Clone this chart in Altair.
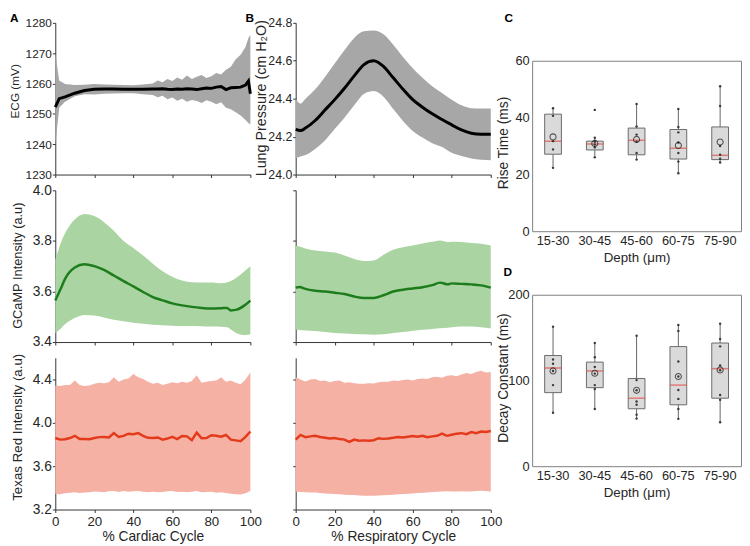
import altair as alt
import pandas as pd

# ---------------- A (top): ECG over the cardiac cycle ----------------
ECG_X = [0, 2, 5, 10, 15, 20, 25, 30, 35, 40, 45, 50, 52.5, 55, 57.5, 60, 62.5, 65, 67.5, 70,
         72.5, 75, 77.5, 80, 82.5, 85, 87.5, 90, 92.5, 95, 97.5, 99, 100]
ECG_MEAN = [1252.2, 1255.0, 1255.6, 1256.8, 1257.7, 1258.1, 1258.2, 1258.2, 1258.1, 1258.1, 1258.1, 1258.2,
            1258.2, 1258.3, 1258.1, 1258.0, 1258.2, 1258.1, 1258.3, 1258.2, 1258.0, 1258.3, 1258.5, 1258.4,
            1258.8, 1259.0, 1258.0, 1258.6, 1258.7, 1258.8, 1259.5, 1260.8, 1256.6]
ECG_HI = [1270, 1261, 1259.8, 1259.5, 1259.6, 1259.8, 1259.7, 1259.6, 1259.5, 1259.4, 1259.7, 1260.0,
          1261.0, 1260.4, 1261.5, 1260.8, 1262.0, 1261.2, 1262.6, 1261.5, 1262.2, 1262.8, 1261.8, 1262.4,
          1263.5, 1263.0, 1264.5, 1265.5, 1268, 1269.5, 1272, 1275, 1276]
ECG_LO = [1239.5, 1252, 1254, 1255.8, 1256.5, 1256.4, 1256.6, 1256.7, 1256.8, 1256.8, 1256.5, 1256.2,
          1255.5, 1256.0, 1254.8, 1255.4, 1254.3, 1255.0, 1254.0, 1254.6, 1254.2, 1253.6, 1254.5, 1254.0,
          1253.2, 1253.8, 1252.0, 1251.5, 1250.5, 1249.5, 1248, 1247, 1246.5]

# ---------------- B (top): lung pressure over the respiratory cycle ----------------
LUNG_X = [0, 2.5, 5, 10, 15, 20, 25, 30, 35, 40, 45, 50, 55, 60, 65, 70, 75, 80, 85, 90, 95, 100]
LUNG_MEAN = [24.238, 24.232, 24.245, 24.285, 24.34, 24.395, 24.455, 24.52, 24.58, 24.60, 24.57,
             24.51, 24.45, 24.395, 24.355, 24.32, 24.29, 24.262, 24.235, 24.218, 24.213, 24.213]
LUNG_HI = [24.40, 24.374, 24.40, 24.45, 24.515, 24.585, 24.655, 24.72, 24.755, 24.76, 24.74,
           24.685, 24.62, 24.56, 24.51, 24.465, 24.43, 24.395, 24.365, 24.35, 24.348, 24.348]
LUNG_LO = [24.087, 24.095, 24.103, 24.135, 24.18, 24.24, 24.30, 24.365, 24.425, 24.44, 24.41,
           24.345, 24.283, 24.23, 24.195, 24.165, 24.145, 24.115, 24.098, 24.085, 24.078, 24.075]

# ---------------- GCaMP, cardiac / respiratory ----------------
GCC_X = [0, 3, 5, 10, 15, 20, 25, 30, 35, 40, 45, 50, 55, 60, 65, 70, 75, 80, 85, 88, 90, 93, 97, 100]
GCC_MEAN = [3.564, 3.615, 3.65, 3.695, 3.708, 3.70, 3.685, 3.663, 3.641, 3.62, 3.598, 3.578,
            3.565, 3.553, 3.545, 3.539, 3.535, 3.533, 3.534, 3.535, 3.525, 3.528, 3.545, 3.564]
GCC_HI = [3.725, 3.796, 3.83, 3.885, 3.906, 3.898, 3.874, 3.84, 3.80, 3.772, 3.742, 3.71,
          3.68, 3.658, 3.643, 3.636, 3.635, 3.635, 3.632, 3.635, 3.641, 3.655, 3.68, 3.70]
GCC_LO = [3.435, 3.455, 3.47, 3.495, 3.507, 3.505, 3.497, 3.488, 3.482, 3.476, 3.472, 3.468,
          3.466, 3.464, 3.463, 3.463, 3.462, 3.461, 3.46, 3.458, 3.45, 3.435, 3.428, 3.43]

GCR_X = [0, 2, 5, 10, 15, 20, 25, 30, 35, 40, 45, 50, 55, 60, 65, 70, 74, 78, 80, 85, 90, 95, 100]
GCR_MEAN = [3.615, 3.618, 3.61, 3.603, 3.60, 3.595, 3.59, 3.58, 3.574, 3.574, 3.585, 3.60,
            3.607, 3.612, 3.617, 3.625, 3.635, 3.628, 3.632, 3.63, 3.628, 3.624, 3.615]
GCR_HI = [3.781, 3.778, 3.77, 3.762, 3.758, 3.754, 3.742, 3.728, 3.72, 3.722, 3.745, 3.765,
          3.775, 3.782, 3.79, 3.797, 3.802, 3.796, 3.797, 3.796, 3.792, 3.789, 3.782]
GCR_LO = [3.45, 3.448, 3.446, 3.444, 3.44, 3.436, 3.434, 3.432, 3.431, 3.429, 3.431, 3.436,
          3.44, 3.445, 3.449, 3.452, 3.455, 3.457, 3.458, 3.461, 3.461, 3.458, 3.454]

# ---------------- Texas Red, cardiac / respiratory ----------------
TR_X = [0, 2.5, 5, 7.5, 10, 12.5, 15, 17.5, 20, 22.5, 25, 27.5, 30, 32.5, 35, 37.5, 40, 42.5, 45, 47.5,
        50, 52.5, 55, 57.5, 60, 62.5, 65, 67.5, 70, 72.5, 75, 77.5, 80, 82.5, 85, 87.5, 90, 92.5, 95, 97.5, 100]
TRC_MEAN = [3.86, 3.845, 3.848, 3.86, 3.88, 3.85, 3.85, 3.848, 3.86, 3.868, 3.87, 3.865, 3.905, 3.87,
            3.88, 3.9, 3.895, 3.905, 3.88, 3.862, 3.86, 3.865, 3.845, 3.855, 3.87, 3.85, 3.878, 3.875,
            3.84, 3.91, 3.858, 3.86, 3.885, 3.88, 3.872, 3.888, 3.845, 3.838, 3.83, 3.87, 3.92]
TRC_HI = [4.345, 4.34, 4.35, 4.35, 4.39, 4.35, 4.34, 4.345, 4.36, 4.37, 4.365, 4.375, 4.42, 4.38,
          4.4, 4.41, 4.45, 4.42, 4.405, 4.38, 4.36, 4.37, 4.35, 4.36, 4.375, 4.365, 4.38, 4.37,
          4.385, 4.44, 4.37, 4.38, 4.385, 4.39, 4.42, 4.38, 4.39, 4.37, 4.355, 4.4, 4.465]
TRC_LO = [3.343, 3.34, 3.35, 3.355, 3.36, 3.352, 3.357, 3.36, 3.367, 3.365, 3.36, 3.368, 3.37, 3.362,
          3.37, 3.365, 3.368, 3.372, 3.365, 3.36, 3.365, 3.36, 3.362, 3.368, 3.37, 3.362, 3.365, 3.36,
          3.365, 3.372, 3.36, 3.362, 3.365, 3.355, 3.36, 3.352, 3.345, 3.34, 3.338, 3.35, 3.37]
TRR_MEAN = [3.844, 3.889, 3.868, 3.875, 3.88, 3.87, 3.862, 3.855, 3.86, 3.85, 3.845, 3.825, 3.845,
            3.835, 3.838, 3.835, 3.84, 3.858, 3.852, 3.856, 3.862, 3.87, 3.865, 3.872, 3.878, 3.872,
            3.88, 3.868, 3.875, 3.88, 3.9, 3.88, 3.89, 3.9, 3.905, 3.895, 3.915, 3.905, 3.92, 3.915, 3.925]
TRR_HI = [4.42, 4.40, 4.382, 4.40, 4.405, 4.385, 4.39, 4.375, 4.385, 4.39, 4.37, 4.375, 4.365, 4.36,
          4.36, 4.365, 4.362, 4.375, 4.38, 4.378, 4.39, 4.385, 4.395, 4.4, 4.39, 4.405, 4.41, 4.405,
          4.42, 4.425, 4.415, 4.435, 4.44, 4.43, 4.445, 4.46, 4.45, 4.47, 4.48, 4.465, 4.47]
TRR_LO = [3.367, 3.362, 3.36, 3.358, 3.356, 3.352, 3.348, 3.345, 3.343, 3.34, 3.337, 3.335, 3.333,
          3.33, 3.328, 3.328, 3.328, 3.33, 3.332, 3.334, 3.337, 3.34, 3.343, 3.346, 3.349, 3.352,
          3.355, 3.358, 3.362, 3.364, 3.366, 3.368, 3.367, 3.366, 3.368, 3.367, 3.366, 3.37, 3.373,
          3.37, 3.367]

# ---------------- C / D: box plots by depth ----------------
CATS = ["15-30", "30-45", "45-60", "60-75", "75-90"]
RISE_Q1 = [27.1, 28.6, 26.9, 25.4, 25.2]
RISE_Q3 = [41.2, 31.7, 36.3, 35.8, 36.7]
RISE_MED = [31.7, 30.7, 32.0, 29.2, 26.7]
RISE_MEAN = [33.2, 30.9, 32.3, 30.2, 31.4]
RISE_WLO = [22.3, 26.0, 25.2, 20.4, 24.2]
RISE_WHI = [43.3, 32.9, 44.8, 43.0, 51.0]
RISE_PTS = [[43.3, 40.6, 31.7, 28.8, 22.3],
            [42.7, 32.9, 31.5, 30.5, 29.5, 26.0],
            [44.8, 36.9, 34.0, 31.5, 27.5, 25.2],
            [43.0, 36.7, 34.8, 31.2, 27.5, 24.5, 20.4],
            [51.0, 44.1, 30.0, 26.9, 25.5, 24.2]]

DEC_Q1 = [85.8, 91.6, 67.0, 71.6, 79.3]
DEC_Q3 = [129.1, 121.4, 102.3, 139.5, 143.7]
DEC_MED = [114.5, 111.1, 79.3, 94.6, 113.8]
DEC_MEAN = [111.1, 108.4, 88.5, 104.6, 112.3]
DEC_WLO = [62.4, 66.7, 55.5, 55.2, 51.3]
DEC_WHI = [162.8, 143.7, 152.1, 164.7, 166.3]
DEC_PTS = [[162.8, 124.5, 119.5, 111.1, 94.6, 62.4],
           [143.7, 127.2, 115.7, 108.0, 94.6, 90.0, 66.7],
           [152.1, 100.4, 88.5, 75.5, 71.6, 60.1, 55.5],
           [164.7, 157.8, 122.2, 104.6, 88.9, 78.5, 66.7, 55.2],
           [166.3, 148.3, 139.8, 117.6, 111.9, 83.1, 77.4, 51.3]]

FONT = "Liberation Sans"
INK = "#262626"
AXC = "#333333"
XTICKS = [0, 20, 40, 60, 80, 100]

GRAY_BAND, GRAY_LINE = "#a7a7a7", "#000000"
GREEN_BAND, GREEN_LINE = "#aad4a1", "#1d7d1d"
RED_BAND, RED_LINE = "#f5b1a4", "#e43a1c"


def x_axis(labels, title):
    return alt.Axis(values=XTICKS, labels=labels, title=title, tickSize=3, labelFlush=False,
                    labelFontSize=13.5, labelPadding=2, titleFontSize=14, titlePadding=2, format="d")


def y_axis(values, fmt, labels, title, lsize, tsize, tx, ty=77):
    if title:
        return alt.Axis(values=values, format=fmt, labels=labels, tickSize=3, labelPadding=1,
                        labelFontSize=lsize, labelFlush=False, title=title, titleFontSize=tsize,
                        titleX=tx, titleY=ty)
    return alt.Axis(values=values, format=fmt, labels=labels, tickSize=3, labelPadding=1,
                    labelFontSize=lsize, labelFlush=False, title=None)


def letter(t, dx, dy):
    return alt.Title(t, anchor="start", frame="group", dx=dx, dy=dy, offset=0,
                     fontSize=12, fontWeight="bold", font=FONT, color="#000000")


def trace(x, m, lo, hi, band, line, lw, ydom, yax, xax, title=None, interp="linear", w=198, h=154):
    df = pd.DataFrame({"x": x, "m": m, "lo": lo, "hi": hi})
    xs = alt.Scale(domain=[0, 100], nice=False)
    ys = alt.Scale(domain=ydom, nice=False, zero=False)
    X = alt.X("x:Q", scale=xs, axis=xax)
    area = alt.Chart(df).mark_area(color=band, opacity=1, interpolate=interp).encode(
        x=X, y=alt.Y("lo:Q", scale=ys, axis=yax), y2="hi:Q")
    ln = alt.Chart(df).mark_line(color=line, strokeWidth=lw, interpolate=interp).encode(
        x=X, y=alt.Y("m:Q", scale=ys, axis=yax))
    ch = alt.layer(area, ln).properties(width=w, height=h)
    if title is not None:
        ch = ch.properties(title=title)
    return ch


def box(q1, q3, med, mean, wlo, whi, pts, ydom, yvals, ytitle, h, ty, title=None):
    st = pd.DataFrame({"d": CATS, "q1": q1, "q3": q3, "med": med, "mean": mean, "wlo": wlo, "whi": whi})
    pdf = pd.DataFrame([(c, v) for c, vs in zip(CATS, pts) for v in vs], columns=["d", "v"])
    xax = alt.Axis(title="Depth (μm)", labelAngle=0, ticks=False, domain=False, labelFontSize=13,
                   labelPadding=4, titleFontSize=13.5, titlePadding=3)
    X = alt.X("d:N", sort=CATS, scale=alt.Scale(paddingInner=0, paddingOuter=0), axis=xax)
    ys = alt.Scale(domain=ydom, nice=False)
    yax = alt.Axis(values=yvals, ticks=False, domain=False, labelFontSize=13, labelPadding=3,
                   title=ytitle, titleFontSize=14, titleX=-21.5, titleY=ty)

    def Y(f):
        return alt.Y(f, scale=ys, axis=yax)

    wh = alt.Chart(st).mark_rule(color="#666666", strokeWidth=1).encode(x=X, y=Y("wlo:Q"), y2="whi:Q")
    bx = alt.Chart(st).mark_bar(size=17, color="#dadada", stroke="#6a6a6a", strokeWidth=1).encode(
        x=X, y=Y("q1:Q"), y2="q3:Q")
    md = alt.Chart(st).mark_tick(color="#e2534c", size=17, thickness=1.5).encode(x=X, y=Y("med:Q"))
    dt = alt.Chart(pdf).mark_circle(size=6, color="#3a3a3a", opacity=1).encode(x=X, y=Y("v:Q"))
    mn = alt.Chart(st).mark_point(shape="circle", size=38, color="#1a1a1a", strokeWidth=1.1,
                                  filled=False).encode(x=X, y=Y("mean:Q"))
    ch = alt.layer(wh, bx, md, dt, mn).properties(
        width=212, height=h, view=alt.ViewBackground(stroke="#7f7f7f", strokeWidth=1))
    if title is not None:
        ch = ch.properties(title=title)
    return ch


A1 = trace(ECG_X, ECG_MEAN, ECG_LO, ECG_HI, GRAY_BAND, GRAY_LINE, 3, [1230, 1280],
           y_axis([1230, 1240, 1250, 1260, 1270, 1280], "d", True, "ECG (mV)", 12, 12, -34, 69),
           x_axis(False, None), title=letter("A", -46, 8))
A2 = trace(GCC_X, GCC_MEAN, GCC_LO, GCC_HI, GREEN_BAND, GREEN_LINE, 2.5, [3.4, 4.0],
           y_axis([3.4, 3.6, 3.8, 4.0], ".1f", True, "GCaMP Intensity (a.u)", 14, 13, -31, 76),
           x_axis(False, None), interp="monotone")
A3 = trace(TR_X, TRC_MEAN, TRC_LO, TRC_HI, RED_BAND, RED_LINE, 2.5, [3.2, 4.6],
           y_axis([3.2, 3.6, 4.0, 4.4], ".1f", True, "Texas Red Intensity (a.u)", 14, 13.5, -31, 70),
           x_axis(True, "% Cardiac Cycle"))

B1 = trace(LUNG_X, LUNG_MEAN, LUNG_LO, LUNG_HI, GRAY_BAND, GRAY_LINE, 3, [24.0, 24.8],
           y_axis([24.0, 24.2, 24.4, 24.6, 24.8], ".1f", True, "Lung Pressure (cm H₂O)", 12.5, 14.5, -28, 76),
           x_axis(False, None), title=letter("B", -51, 8.5), interp="monotone")
B2 = trace(GCR_X, GCR_MEAN, GCR_LO, GCR_HI, GREEN_BAND, GREEN_LINE, 2.5, [3.4, 4.0],
           y_axis([3.4, 3.6, 3.8, 4.0], ".1f", False, None, 14, 13, 0),
           x_axis(False, None), interp="monotone")
B3 = trace(TR_X, TRR_MEAN, TRR_LO, TRR_HI, RED_BAND, RED_LINE, 2.5, [3.2, 4.6],
           y_axis([3.2, 3.6, 4.0, 4.4], ".1f", False, None, 14, 13.5, 0),
           x_axis(True, "% Respiratory Cycle"))

C = box(RISE_Q1, RISE_Q3, RISE_MED, RISE_MEAN, RISE_WLO, RISE_WHI, RISE_PTS, [0, 60], [0, 20, 40, 60],
        "Rise Time (ms)", 173, 83)
D = box(DEC_Q1, DEC_Q3, DEC_MED, DEC_MEAN, DEC_WLO, DEC_WHI, DEC_PTS, [0, 200], [0, 100, 200],
        "Decay Constant (ms)", 174, 84, title=letter("D", -29, -10.5))

# empty block that pushes panel C down below the top of panels A and B
spacer = alt.Chart(pd.DataFrame({"s": [0]})).mark_point(size=0, opacity=0).encode(
    x=alt.value(0.5), y=alt.value(0.5)).properties(width=1, height=31)

colA = alt.vconcat(A1, A2, A3, spacing=16, bounds="flush")
colB = alt.vconcat(B1, B2, B3, spacing=16, bounds="flush")
colC = alt.vconcat(spacer, C, D, spacing=0.5, bounds="full", title=letter("C", -28, 2))

chart = alt.hconcat(alt.hconcat(colA, colB, spacing=-17), colC, spacing=-6).properties(padding=0)
chart = chart.configure_view(stroke=None).configure_axis(
    labelFont=FONT, titleFont=FONT, labelColor=INK, titleColor=INK, domainColor=AXC, tickColor=AXC,
    grid=False, titleFontWeight="normal", domainWidth=1, tickWidth=1
).configure_title(font=FONT)

chart.save("out.html", embed_options={"renderer": "svg", "actions": False})
